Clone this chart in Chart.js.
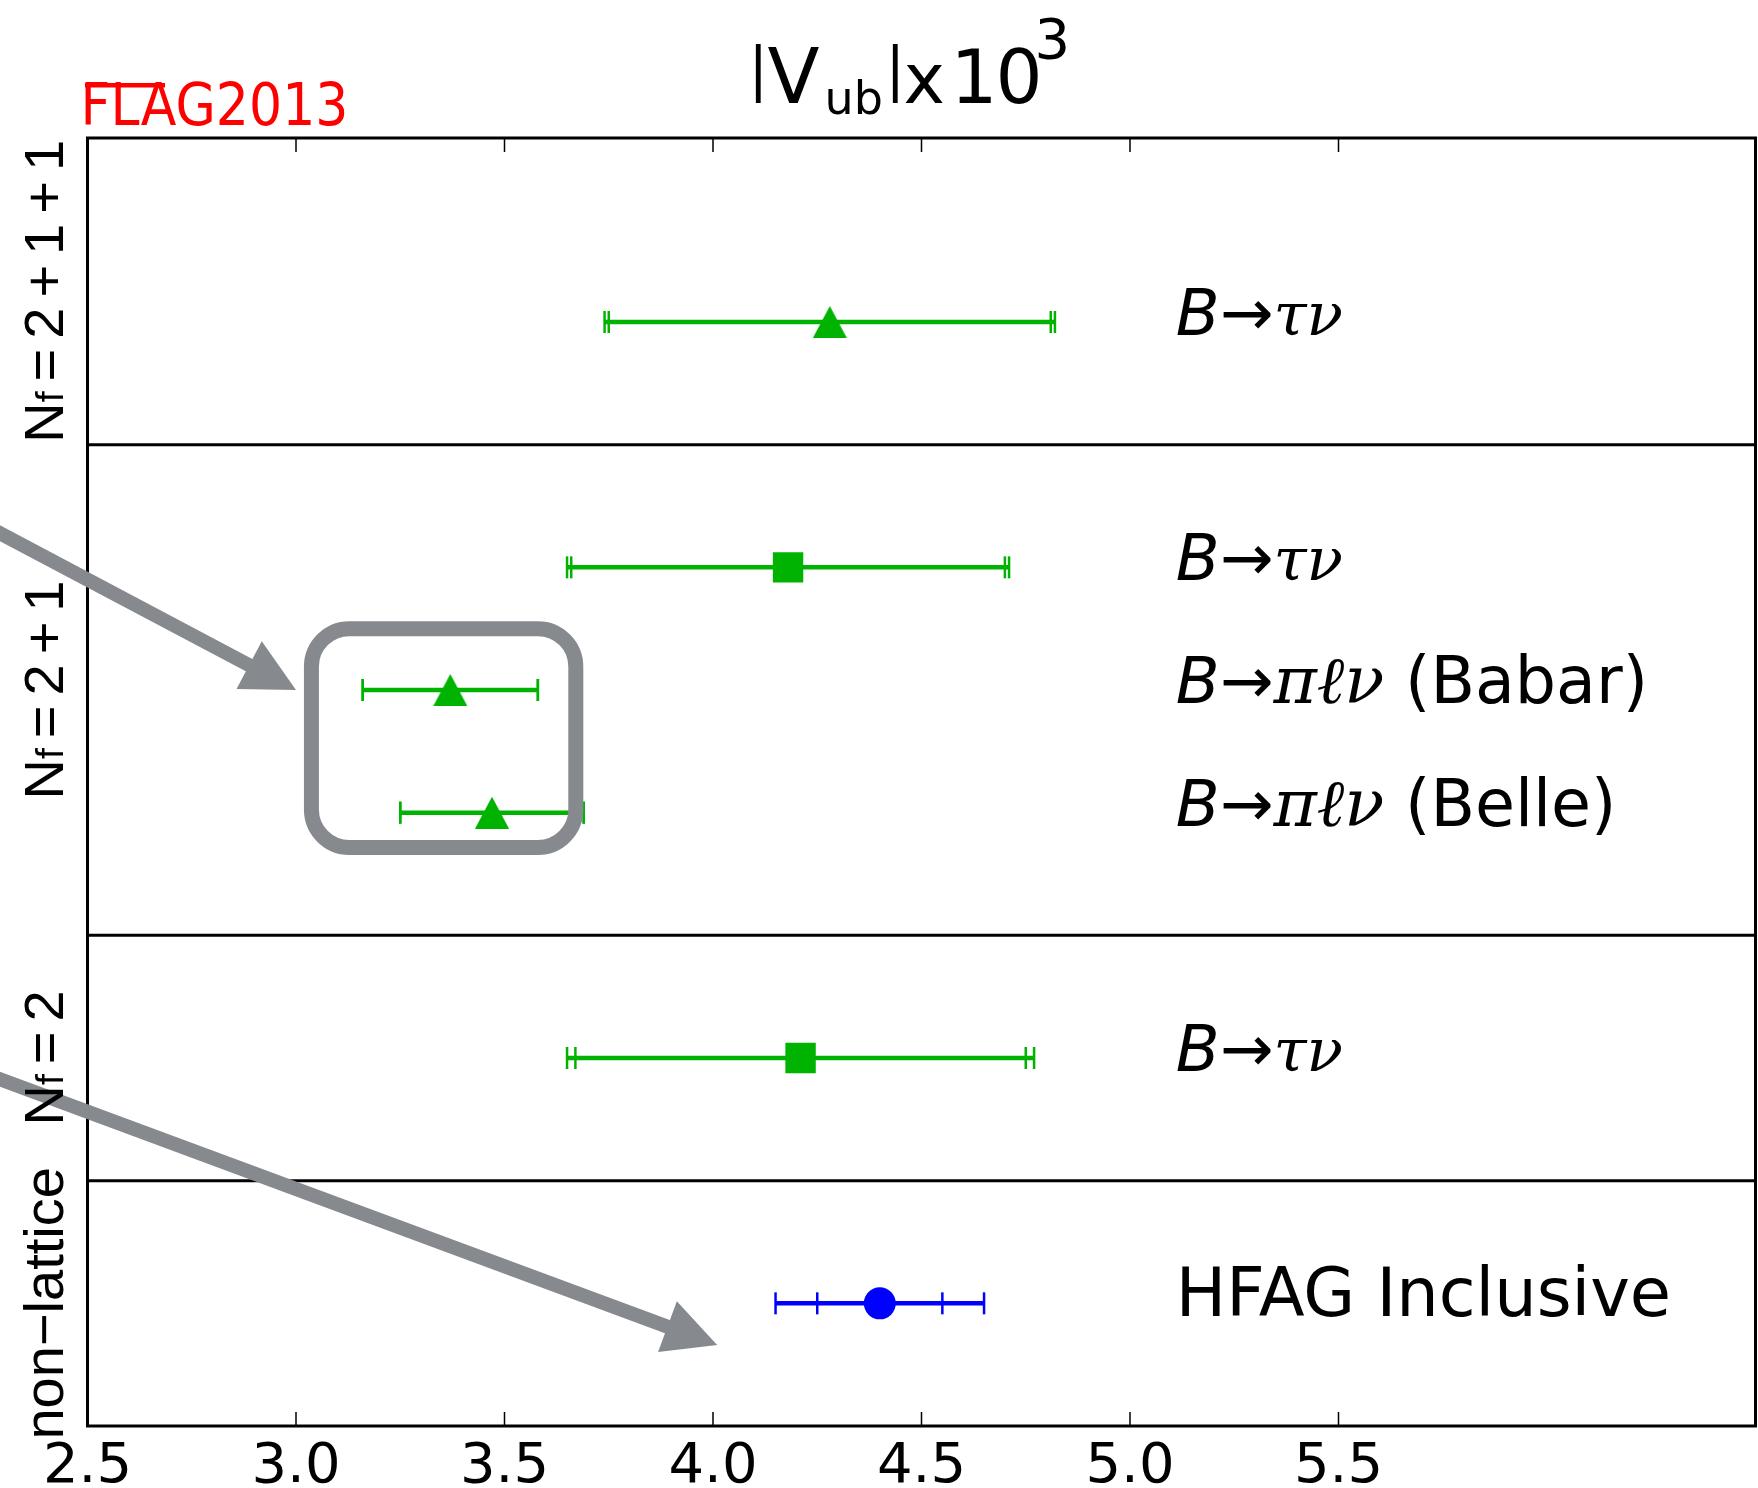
<!DOCTYPE html>
<html lang="en">
<head>
<meta charset="UTF-8">
<title>|Vub| x 10^3 - FLAG 2013</title>
<script src="https://cdn.jsdelivr.net/npm/chart.js@4.4.0/dist/chart.umd.min.js"></script>
<style>
    body { margin: 0; background: #fff; }
    #wrap { width: 1758px; height: 1488px; }
</style>
</head>
<body>
<div id="wrap"><canvas id="vubChart" width="1758" height="1488"></canvas></div>
<script>
const resultLabels = ['B→τν', 'B→τν', 'B→πℓν (Babar)', 'B→πℓν (Belle)', 'B→τν', 'HFAG Inclusive'];
const rowPos = [9, 7, 6, 5, 3, 1];
const vubCentral = [4.28, 4.18, 3.37, 3.47, 4.21, 4.40];
const statErr = [0.53, 0.52, 0.21, 0.22, 0.54, 0.15];
const totalErr = [0.54, 0.53, 0.21, 0.22, 0.56, 0.25];
const markerKind = ['triangle', 'square', 'triangle', 'triangle', 'square', 'circle'];
const markerColor = ['#00b300', '#00b300', '#00b300', '#00b300', '#00b300', '#0000ff'];

const groupNames = ['N_f=2+1+1', 'N_f=2+1', 'N_f=2', 'non−lattice'];
const groupCenter = [9.25, 6, 3, 1];
const groupEdges = [8, 4, 2];

const xTicks = [2.5, 3.0, 3.5, 4.0, 4.5, 5.0, 5.5];

const GREEN = '#00b300';
const GREY = '#86898d';

function triangleImage(color, w, h) {
    const c = document.createElement('canvas');
    c.width = w; c.height = h;
    const g = c.getContext('2d');
    g.fillStyle = color;
    g.beginPath();
    g.moveTo(w / 2, 0);
    g.lineTo(w, h);
    g.lineTo(0, h);
    g.closePath();
    g.fill();
    return c;
}
const triImg = triangleImage(GREEN, 34, 32);

function isTick(v) {
    return xTicks.some(t => Math.abs(t - v) < 1e-6);
}

// draws text so its ink starts at inkLeft
function inkText(ctx, text, font, inkLeft, baseline) {
    ctx.font = font;
    const m = ctx.measureText(text);
    ctx.fillText(text, inkLeft + m.actualBoundingBoxLeft, baseline);
}

// Error bars: total and stat caps
const errorBars = {
    id: 'errorBars',
    beforeDatasetsDraw(chart) {
        const { ctx, scales: { x, y } } = chart;
        ctx.save();
        vubCentral.forEach((v, i) => {
            const py = y.getPixelForValue(rowPos[i]);
            ctx.strokeStyle = markerColor[i];
            ctx.lineWidth = 4.5;
            ctx.beginPath();
            ctx.moveTo(x.getPixelForValue(v - totalErr[i]), py);
            ctx.lineTo(x.getPixelForValue(v + totalErr[i]), py);
            ctx.stroke();
            ctx.lineWidth = 2.5;
            [v - totalErr[i], v + totalErr[i], v - statErr[i], v + statErr[i]].forEach(e => {
                const px = x.getPixelForValue(e);
                ctx.beginPath();
                ctx.moveTo(px, py - 11);
                ctx.lineTo(px, py + 11);
                ctx.stroke();
            });
        });
        ctx.restore();
    }
};

// Frame, group dividers and inward tick marks
const frame = {
    id: 'frame',
    afterDatasetsDraw(chart) {
        const { ctx, chartArea: a, scales: { x, y } } = chart;
        ctx.save();
        ctx.strokeStyle = '#000';
        ctx.lineWidth = 3;
        ctx.strokeRect(a.left, a.top, a.right - a.left, a.bottom - a.top);
        groupEdges.forEach(g => {
            const py = y.getPixelForValue(g);
            ctx.beginPath();
            ctx.moveTo(a.left, py);
            ctx.lineTo(a.right, py);
            ctx.stroke();
        });
        ctx.lineWidth = 1.5;
        xTicks.forEach(t => {
            const px = x.getPixelForValue(t);
            ctx.beginPath();
            ctx.moveTo(px, a.bottom); ctx.lineTo(px, a.bottom - 14);
            ctx.moveTo(px, a.top); ctx.lineTo(px, a.top + 14);
            ctx.stroke();
        });
        ctx.restore();
    }
};

// Texts and grey annotations
const decorations = {
    id: 'decorations',
    afterDraw(chart) {
        const { ctx, chartArea: a, scales: { x, y } } = chart;
        ctx.save();

        // grey rounded box round the two B->pi l nu results
        const bx0 = x.getPixelForValue(3.037), bx1 = x.getPixelForValue(3.671);
        const by0 = y.getPixelForValue(6.50), by1 = y.getPixelForValue(4.716);
        ctx.strokeStyle = GREY;
        ctx.lineWidth = 15;
        ctx.beginPath();
        ctx.roundRect(bx0, by0, bx1 - bx0, by1 - by0, 38);
        ctx.stroke();

        // grey arrows
        const arrows = [[[2.2, 7.44], [3.0, 6.0]], [[2.2, 2.94], [4.01, 0.66]]];
        arrows.forEach(([from, to]) => {
            const x0 = x.getPixelForValue(from[0]), y0 = y.getPixelForValue(from[1]);
            const x1 = x.getPixelForValue(to[0]), y1 = y.getPixelForValue(to[1]);
            const ang = Math.atan2(y1 - y0, x1 - x0);
            const headLen = 53, headW = 27;
            const bxm = x1 - headLen * Math.cos(ang), bym = y1 - headLen * Math.sin(ang);
            ctx.strokeStyle = GREY;
            ctx.fillStyle = GREY;
            ctx.lineWidth = 14;
            ctx.beginPath();
            ctx.moveTo(x0, y0);
            ctx.lineTo(bxm + 2 * Math.cos(ang), bym + 2 * Math.sin(ang));
            ctx.stroke();
            ctx.beginPath();
            ctx.moveTo(x1, y1);
            ctx.lineTo(bxm - headW * Math.sin(ang), bym + headW * Math.cos(ang));
            ctx.lineTo(bxm + headW * Math.sin(ang), bym - headW * Math.cos(ang));
            ctx.closePath();
            ctx.fill();
        });

        ctx.fillStyle = '#000';
        ctx.textAlign = 'left';
        ctx.textBaseline = 'alphabetic';

        // title |V_ub| x 10^3
        const c0 = (a.left + a.right) / 2 - 166;
        const dv = '"DejaVu Sans"';
        inkText(ctx, '|', `58px ${dv}`, c0, 89);
        inkText(ctx, 'V', `76px ${dv}`, c0 + 12, 103);
        inkText(ctx, 'ub', `46px ${dv}`, c0 + 72, 114);
        inkText(ctx, '|', `58px ${dv}`, c0 + 137, 89);
        inkText(ctx, 'x', `70px ${dv}`, c0 + 150, 103);
        inkText(ctx, '1', `74px ${dv}`, c0 + 203, 103);
        inkText(ctx, '0', `74px ${dv}`, c0 + 244, 103);
        inkText(ctx, '3', `56px ${dv}`, c0 + 283, 58);

        // FLAG2013 logo
        ctx.fillStyle = '#ff0000';
        ctx.font = `58px ${dv}`;
        const fm = ctx.measureText('FLAG2013');
        const fw = fm.actualBoundingBoxLeft + fm.actualBoundingBoxRight;
        ctx.save();
        ctx.translate(85, 125);
        ctx.scale(260 / fw, 1);
        ctx.fillText('FLAG2013', fm.actualBoundingBoxLeft, 0);
        ctx.restore();
        ctx.fillRect(85, 83, 80, 4.5);

        // right-hand labels
        ctx.fillStyle = '#000';
        const lx = x.getPixelForValue(5.11);
        resultLabels.forEach((lab, i) => {
            const base = y.getPixelForValue(rowPos[i]) + 13;
            let parts;
            if (lab.startsWith('B→')) {
                const sp = lab.indexOf(' ');
                const greek = sp < 0 ? lab.slice(2) : lab.slice(2, sp);
                const gs = sp < 0 ? 60 : 66;
                parts = [
                    ['B', `italic 64px ${dv}`],
                    ['→', `64px ${dv}`],
                    [greek, `italic ${gs}px "DejaVu Serif"`]
                ];
                if (sp >= 0) parts.push([lab.slice(sp), `65px ${dv}`]);
            } else {
                parts = [[lab, `67px ${dv}`]];
            }
            let cx = lx;
            parts.forEach(([t, f]) => {
                ctx.font = f;
                ctx.fillText(t, cx, base);
                cx += ctx.measureText(t).width;
            });
        });

        // rotated group labels on the left
        const lib = '"Liberation Sans"';
        groupNames.forEach((name, i) => {
            let tokens;
            if (name.startsWith('N_f=')) {
                tokens = [['N', 56, 0], ['f', 39, 0]];
                const rest = name.slice(4).split(/(\+)/);
                tokens.push(['=', 56, 10]);
                rest.forEach(t => tokens.push([t, 56, 10]));
            } else {
                tokens = [[name, 56, 0]];
            }
            let total = 0;
            tokens.forEach(([t, s, g]) => {
                ctx.font = `${s}px ${lib}`;
                total += g + ctx.measureText(t).width;
            });
            ctx.save();
            ctx.translate(63, y.getPixelForValue(groupCenter[i]));
            ctx.rotate(-Math.PI / 2);
            let px = -total / 2;
            tokens.forEach(([t, s, g]) => {
                ctx.font = `${s}px ${lib}`;
                px += g;
                ctx.fillText(t, px, 0);
                px += ctx.measureText(t).width;
            });
            ctx.restore();
        });

        ctx.restore();
    }
};

const ctx = document.getElementById('vubChart').getContext('2d');
new Chart(ctx, {
    type: 'scatter',
    data: {
        datasets: [{
            data: vubCentral.map((v, i) => ({ x: v, y: rowPos[i] })),
            pointStyle: markerKind.map(k => k === 'triangle' ? triImg : (k === 'square' ? 'rect' : 'circle')),
            pointRadius: markerKind.map(k => k === 'square' ? 21.5 : (k === 'circle' ? 16 : 17)),
            pointHoverRadius: markerKind.map(k => k === 'square' ? 21.5 : (k === 'circle' ? 16 : 17)),
            backgroundColor: markerColor,
            borderColor: markerColor,
            borderWidth: 0
        }]
    },
    options: {
        responsive: false,
        animation: false,
        events: [],
        layout: { autoPadding: false, padding: { top: 138, right: 2.5, left: 87.5, bottom: 0 } },
        plugins: { legend: { display: false }, tooltip: { enabled: false } },
        scales: {
            x: {
                type: 'linear',
                position: 'bottom',
                min: 2.5,
                max: 6.5,
                grid: { display: false, drawTicks: false },
                border: { display: false },
                ticks: {
                    stepSize: 0.5,
                    autoSkip: false,
                    maxRotation: 0,
                    padding: 8,
                    color: '#000',
                    font: { family: 'DejaVu Sans', size: 56 },
                    callback: v => isTick(v) ? v.toFixed(1) : ''
                },
                afterFit: s => {
                    s.height = 62;
                    s.paddingLeft = 0;
                    s.paddingRight = 0;
                }
            },
            y: {
                type: 'linear',
                min: 0,
                max: 10.5,
                display: false
            }
        }
    },
    plugins: [errorBars, frame, decorations]
});
</script>
</body>
</html>
